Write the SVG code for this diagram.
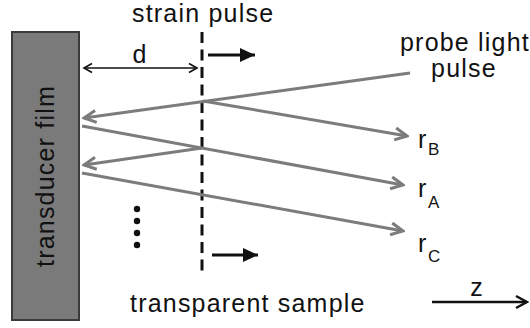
<svg xmlns="http://www.w3.org/2000/svg" width="530" height="328" viewBox="0 0 530 328">
  <style>
    .lbl { font-family: "Liberation Sans", Arial, sans-serif; font-size: 25px; fill: #111; letter-spacing: 1.2px; }
    .sub { font-family: "Liberation Sans", Arial, sans-serif; font-size: 17px; fill: #111; }
    .ray { stroke: #7c7c7c; stroke-width: 3; fill: none; marker-end: url(#openGray); }
    .blk { stroke: #111; fill: none; }
  </style>
  <defs>
    <marker id="openGray" markerUnits="userSpaceOnUse" viewBox="-14 -9 16 18" markerWidth="16" markerHeight="18" refX="0" refY="0" orient="auto">
      <path d="M-12,-6 L0,0 L-12,6" fill="none" stroke="#7c7c7c" stroke-width="3" stroke-linejoin="miter"/>
    </marker>
    <marker id="openBlk" markerUnits="userSpaceOnUse" viewBox="-10 -6 12 12" markerWidth="12" markerHeight="12" refX="0" refY="0" orient="auto-start-reverse">
      <path d="M-8,-4.5 L0,0 L-8,4.5" fill="none" stroke="#111" stroke-width="1.6"/>
    </marker>
    <marker id="openBlkZ" markerUnits="userSpaceOnUse" viewBox="-14 -8 16 16" markerWidth="16" markerHeight="16" refX="0" refY="0" orient="auto">
      <path d="M-11,-6 L0,0 L-11,6" fill="none" stroke="#111" stroke-width="2.5"/>
    </marker>
    <marker id="solidBlk" markerUnits="userSpaceOnUse" viewBox="-16 -8 17 16" markerWidth="17" markerHeight="16" refX="0" refY="0" orient="auto">
      <path d="M-15,-7 L0,0 L-15,7 Z" fill="#111"/>
    </marker>
  </defs>

  <rect width="530" height="328" fill="#fff"/>

  <!-- transducer film -->
  <g id="film">
    <rect x="12" y="32" width="67" height="288" fill="#7a7a7a" stroke="#3a3a3a" stroke-width="2"/>
    <text class="lbl" text-anchor="middle" transform="translate(54,176) rotate(-90)">transducer film</text>
  </g>

  <!-- strain pulse front -->
  <g id="strain-pulse">
    <text class="lbl" x="132" y="22">strain pulse</text>
    <line x1="202" y1="32" x2="202" y2="276" stroke="#111" stroke-width="3" stroke-dasharray="11 6.5"/>
    <line class="blk" x1="208" y1="55" x2="255" y2="55" stroke-width="3" marker-end="url(#solidBlk)"/>
    <line class="blk" x1="212" y1="255" x2="258" y2="255" stroke-width="3" marker-end="url(#solidBlk)"/>
  </g>

  <!-- distance d -->
  <g id="distance">
    <text class="lbl" x="140" y="63" text-anchor="middle">d</text>
    <line class="blk" x1="84" y1="68" x2="197" y2="68" stroke-width="1.6" marker-start="url(#openBlk)" marker-end="url(#openBlk)"/>
  </g>

  <!-- probe light -->
  <g id="probe">
    <text class="lbl" x="400" y="51">probe light</text>
    <text class="lbl" x="464" y="77" text-anchor="middle">pulse</text>
  </g>

  <!-- reflected beams -->
  <g id="connectors">
    <line class="ray" x1="410" y1="73" x2="84" y2="118"/>
    <line class="ray" x1="203" y1="101" x2="407" y2="136"/>
    <line class="ray" x1="82" y1="126" x2="403" y2="185"/>
    <line class="ray" x1="202" y1="148" x2="84" y2="165"/>
    <line class="ray" x1="82" y1="173" x2="403" y2="231"/>
  </g>

  <g id="rB">
    <text class="lbl" x="418" y="148">r</text><text class="sub" x="428" y="155">B</text>
  </g>
  <g id="rA">
    <text class="lbl" x="418" y="197">r</text><text class="sub" x="428" y="208">A</text>
  </g>
  <g id="rC">
    <text class="lbl" x="418" y="252">r</text><text class="sub" x="428" y="262">C</text>
  </g>

  <!-- further reflections -->
  <g id="ellipsis" fill="#111">
    <circle cx="137" cy="209" r="3.2"/>
    <circle cx="137" cy="221" r="3.2"/>
    <circle cx="137" cy="233" r="3.2"/>
    <circle cx="137" cy="245" r="3.2"/>
  </g>

  <g id="sample">
    <text class="lbl" x="130" y="312">transparent sample</text>
  </g>

  <g id="z-axis">
    <text class="lbl" x="477" y="296" text-anchor="middle">z</text>
    <line class="blk" x1="432" y1="302" x2="527" y2="302" stroke-width="2.5" marker-end="url(#openBlkZ)"/>
  </g>
</svg>
